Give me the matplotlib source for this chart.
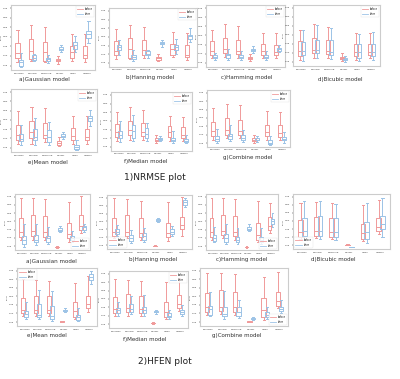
import matplotlib
matplotlib.use("Agg")
import matplotlib.pyplot as plt
from matplotlib.lines import Line2D

categories = ["gaussian", "hanning", "hamming", "bicubic", "mean", "median"]
series_labels = ["before", "after"]

# each entry: [whisker low, Q1, median, Q3, whisker high] per category
nrmse_a_before = [[0.11,0.175,0.25,0.41,0.60],[0.115,0.15,0.285,0.46,0.685],[0.10,0.125,0.265,0.425,0.655],[0.075,0.115,0.135,0.15,0.195],[0.125,0.175,0.26,0.36,0.55],[0.11,0.165,0.215,0.35,0.54]]
nrmse_a_after = [[0.025,0.05,0.10,0.14,0.25],[0.115,0.14,0.175,0.215,0.235],[0.085,0.12,0.145,0.175,0.215],[0.265,0.29,0.315,0.34,0.365],[0.26,0.315,0.375,0.415,0.515],[0.40,0.485,0.55,0.59,0.75]]
nrmse_b_before = [[0.12,0.18,0.25,0.43,0.63],[0.11,0.14,0.29,0.48,0.70],[0.14,0.18,0.28,0.44,0.68],[0.08,0.105,0.13,0.15,0.21],[0.15,0.19,0.29,0.37,0.58],[0.10,0.15,0.18,0.36,0.57]]
nrmse_b_after = [[0.19,0.27,0.32,0.36,0.44],[0.08,0.11,0.15,0.18,0.28],[0.14,0.18,0.21,0.25,0.28],[0.33,0.37,0.39,0.42,0.44],[0.21,0.28,0.32,0.36,0.47],[0.42,0.46,0.51,0.54,0.65]]
nrmse_c_before = [[0.12,0.18,0.25,0.41,0.59],[0.14,0.21,0.27,0.46,0.68],[0.13,0.19,0.25,0.42,0.65],[0.08,0.105,0.13,0.15,0.19],[0.13,0.17,0.25,0.36,0.54],[0.13,0.17,0.23,0.34,0.54]]
nrmse_c_after = [[0.09,0.12,0.14,0.17,0.21],[0.10,0.13,0.17,0.19,0.27],[0.09,0.12,0.15,0.17,0.25],[0.21,0.24,0.26,0.28,0.33],[0.09,0.12,0.14,0.17,0.25],[0.22,0.25,0.27,0.29,0.34]]
nrmse_d_before = [[0.08,0.15,0.23,0.39,0.59],[0.12,0.20,0.25,0.44,0.68],[0.11,0.18,0.23,0.41,0.64],[0.065,0.10,0.12,0.135,0.19],[0.08,0.15,0.22,0.35,0.54],[0.11,0.16,0.21,0.34,0.54]]
nrmse_d_after = [[0.065,0.16,0.23,0.38,0.59],[0.11,0.19,0.25,0.42,0.66],[0.09,0.17,0.22,0.41,0.62],[0.055,0.08,0.10,0.12,0.15],[0.065,0.12,0.21,0.34,0.51],[0.08,0.15,0.22,0.35,0.55]]
nrmse_e_before = [[0.11,0.18,0.26,0.42,0.64],[0.11,0.20,0.30,0.48,0.71],[0.14,0.20,0.26,0.45,0.69],[0.07,0.10,0.125,0.16,0.22],[0.11,0.18,0.245,0.375,0.57],[0.11,0.18,0.22,0.36,0.57]]
nrmse_e_after = [[0.10,0.16,0.19,0.27,0.42],[0.10,0.17,0.22,0.36,0.53],[0.10,0.14,0.22,0.33,0.47],[0.19,0.22,0.245,0.27,0.31],[0.01,0.035,0.06,0.09,0.18],[0.40,0.48,0.53,0.57,0.66]]
nrmse_f_before = [[0.15,0.22,0.30,0.45,0.66],[0.17,0.25,0.34,0.50,0.74],[0.17,0.24,0.31,0.47,0.69],[0.12,0.15,0.17,0.20,0.26],[0.16,0.22,0.30,0.41,0.59],[0.15,0.21,0.26,0.39,0.57]]
nrmse_f_after = [[0.13,0.20,0.25,0.33,0.50],[0.16,0.21,0.33,0.43,0.61],[0.15,0.21,0.28,0.38,0.47],[0.15,0.17,0.19,0.21,0.24],[0.12,0.15,0.17,0.21,0.32],[0.11,0.13,0.16,0.18,0.26]]
nrmse_g_before = [[0.11,0.17,0.26,0.43,0.67],[0.14,0.20,0.29,0.50,0.75],[0.14,0.20,0.27,0.47,0.73],[0.06,0.09,0.11,0.14,0.20],[0.11,0.17,0.24,0.37,0.62],[0.11,0.16,0.23,0.37,0.60]]
nrmse_g_after = [[0.05,0.09,0.13,0.17,0.31],[0.09,0.13,0.17,0.22,0.37],[0.07,0.10,0.14,0.20,0.29],[0.07,0.10,0.11,0.14,0.17],[0.01,0.03,0.06,0.10,0.18],[0.06,0.10,0.13,0.16,0.24]]

hfen_a_before = [[0.17,0.21,0.31,0.56,0.92],[0.17,0.23,0.33,0.62,0.92],[0.16,0.21,0.30,0.60,0.90],[0.025,0.03,0.035,0.04,0.05],[0.13,0.20,0.27,0.48,0.85],[0.29,0.35,0.42,0.61,0.97]]
hfen_a_after = [[0.04,0.09,0.16,0.23,0.46],[0.08,0.12,0.17,0.25,0.45],[0.09,0.12,0.19,0.23,0.39],[0.31,0.33,0.35,0.38,0.42],[0.13,0.16,0.19,0.23,0.32],[0.31,0.35,0.39,0.42,0.46]]
hfen_b_before = [[0.18,0.22,0.31,0.56,0.94],[0.18,0.22,0.31,0.62,0.92],[0.15,0.21,0.29,0.57,0.88],[0.03,0.035,0.04,0.045,0.05],[0.14,0.21,0.28,0.48,0.86],[0.22,0.35,0.44,0.59,0.96]]
hfen_b_after = [[0.22,0.26,0.31,0.35,0.44],[0.09,0.13,0.18,0.24,0.34],[0.12,0.15,0.22,0.28,0.38],[0.49,0.51,0.52,0.54,0.56],[0.22,0.26,0.31,0.35,0.41],[0.78,0.82,0.86,0.90,0.94]]
hfen_c_before = [[0.17,0.21,0.31,0.56,0.92],[0.20,0.25,0.33,0.62,0.92],[0.16,0.23,0.30,0.60,0.91],[0.025,0.03,0.035,0.04,0.045],[0.12,0.16,0.26,0.48,0.87],[0.29,0.35,0.42,0.59,0.84]]
hfen_c_after = [[0.12,0.14,0.20,0.25,0.40],[0.09,0.13,0.19,0.27,0.46],[0.09,0.12,0.16,0.21,0.38],[0.32,0.34,0.36,0.39,0.45],[0.09,0.13,0.17,0.21,0.38],[0.39,0.45,0.50,0.54,0.65]]
hfen_d_before = [[0.17,0.21,0.29,0.52,0.84],[0.19,0.23,0.31,0.58,0.85],[0.17,0.20,0.29,0.55,0.84],[0.045,0.05,0.055,0.06,0.07],[0.13,0.17,0.27,0.45,0.79],[0.26,0.32,0.39,0.56,0.88]]
hfen_d_after = [[0.14,0.23,0.31,0.55,0.87],[0.16,0.23,0.31,0.60,0.87],[0.14,0.20,0.29,0.56,0.81],[0.01,0.012,0.015,0.018,0.02],[0.09,0.17,0.29,0.49,0.84],[0.20,0.35,0.45,0.60,0.92]]
hfen_e_before = [[0.15,0.20,0.26,0.47,0.80],[0.15,0.20,0.27,0.51,0.79],[0.15,0.20,0.27,0.50,0.77],[0.05,0.055,0.06,0.065,0.07],[0.11,0.14,0.25,0.40,0.74],[0.23,0.29,0.36,0.51,0.86]]
hfen_e_after = [[0.10,0.13,0.19,0.25,0.40],[0.10,0.13,0.17,0.36,0.61],[0.07,0.10,0.15,0.33,0.60],[0.23,0.25,0.26,0.27,0.30],[0.06,0.09,0.13,0.18,0.29],[0.72,0.79,0.84,0.90,0.95]]
hfen_f_before = [[0.19,0.24,0.32,0.53,0.85],[0.20,0.26,0.33,0.59,0.84],[0.19,0.24,0.32,0.56,0.83],[0.06,0.065,0.07,0.075,0.08],[0.14,0.17,0.27,0.45,0.80],[0.28,0.34,0.41,0.57,0.87]]
hfen_f_after = [[0.20,0.24,0.30,0.34,0.45],[0.23,0.26,0.32,0.41,0.56],[0.20,0.24,0.30,0.36,0.57],[0.23,0.26,0.27,0.28,0.30],[0.14,0.17,0.20,0.24,0.30],[0.20,0.23,0.27,0.30,0.39]]
hfen_g_before = [[0.18,0.22,0.32,0.56,0.92],[0.19,0.25,0.32,0.61,0.91],[0.18,0.22,0.31,0.58,0.89],[0.045,0.05,0.055,0.06,0.065],[0.09,0.14,0.26,0.48,0.85],[0.29,0.33,0.42,0.58,0.93]]
hfen_g_after = [[0.15,0.18,0.28,0.33,0.58],[0.11,0.15,0.19,0.31,0.59],[0.12,0.15,0.22,0.32,0.44],[0.08,0.10,0.11,0.12,0.14],[0.11,0.14,0.18,0.22,0.31],[0.21,0.24,0.28,0.32,0.44]]

captions = ["a)Gaussian model", "b)Hanning model", "c)Hamming model", "d)Bicubic model",
            "e)Mean model", "f)Median model", "g)Combine model"]
group_titles = ["1)NRMSE plot", "2)HFEN plot"]

RED = "#f09a9a"
BLUE = "#9cc3e6"

W, H = 400, 379
fig = plt.figure(figsize=(4.0, 3.79), dpi=100)
fig.patch.set_facecolor("white")

# panel layout in pixels: (x0, y0, x1, y1, caption_x, caption_y, legend_loc)
panels = [
    (nrmse_a_before, nrmse_a_after, captions[0], (11, 5, 95, 70, 44, 80, "upper right")),
    (nrmse_b_before, nrmse_b_after, captions[1], (109, 8, 197, 67, 150, 78, "upper right")),
    (nrmse_c_before, nrmse_c_after, captions[2], (206, 5, 285, 67, 247, 78, "upper right")),
    (nrmse_d_before, nrmse_d_after, captions[3], (293, 5, 380, 66, 340, 79, "upper right")),
    (nrmse_e_before, nrmse_e_after, captions[4], (11, 89, 97, 152, 48, 163, "upper right")),
    (nrmse_f_before, nrmse_f_after, captions[5], (111, 92, 192, 151, 146, 162, "upper right")),
    (nrmse_g_before, nrmse_g_after, captions[6], (207, 90, 290, 147, 248, 158, "upper right")),
    (hfen_a_before, hfen_a_after, captions[0], (15, 194, 90, 250, 51, 261, "lower right")),
    (hfen_b_before, hfen_b_after, captions[1], (107, 195, 192, 249, 153, 259, "lower left")),
    (hfen_c_before, hfen_c_after, captions[2], (206, 194, 278, 250, 242, 260, "lower right")),
    (hfen_d_before, hfen_d_after, captions[3], (293, 194, 390, 249, 333, 260, "lower left")),
    (hfen_e_before, hfen_e_after, captions[4], (17, 268, 97, 326, 47, 336, "upper left")),
    (hfen_f_before, hfen_f_after, captions[5], (109, 271, 188, 328, 145, 339, "upper right")),
    (hfen_g_before, hfen_g_after, captions[6], (200, 268, 288, 326, 237, 336, "lower right")),
]

def stats_from(rows):
    out = []
    for lo, q1, med, q3, hi in rows:
        out.append(dict(whislo=lo, q1=q1, med=med, q3=q3, whishi=hi, fliers=[]))
    return out

for before, after, cap, (x0, y0, x1, y1, cx, cy, loc) in panels:
    ax = fig.add_axes([x0 / W, 1 - y1 / H, (x1 - x0) / W, (y1 - y0) / H])
    n = len(categories)
    for data, color, off in ((before, RED, -0.12), (after, BLUE, 0.12)):
        props = dict(color=color, linewidth=0.7)
        ax.bxp(stats_from(data), positions=[i + off for i in range(n)], widths=0.3,
               showfliers=False, boxprops=props, whiskerprops=props, capprops=props,
               medianprops=props, manage_ticks=False)
    ax.set_xlim(-0.6, n - 0.4)
    ax.set_ylim(-0.02, 1.0)
    ax.set_xticks(range(n))
    ax.set_xticklabels(categories, fontsize=1.7, color="#444444")
    ax.set_yticks([0.05, 0.2, 0.35, 0.5, 0.65, 0.8, 0.95])
    ax.tick_params(axis="y", labelsize=1.7, labelcolor="#444444", length=1, width=0.3, pad=0.8)
    ax.tick_params(axis="x", length=1, width=0.3, pad=0.8)
    ax.set_ylabel("error", fontsize=1.7, color="#444444", labelpad=0.8)
    for s in ax.spines.values():
        s.set_color("#cccccc")
        s.set_linewidth(0.8)
    handles = [Line2D([0], [0], color=RED, lw=0.6), Line2D([0], [0], color=BLUE, lw=0.6)]
    leg = ax.legend(handles, series_labels, loc=loc, fontsize=1.8, frameon=True,
                    handlelength=2.5, borderpad=0.4, labelspacing=0.4)
    leg.get_frame().set_linewidth(0.3)
    leg.get_frame().set_edgecolor("#dddddd")
    fig.text(cx / W, 1 - cy / H, cap, fontsize=4.1, ha="center", va="center", color="#333333")

fig.text(155 / W, 1 - 178 / H, group_titles[0], fontsize=6.5, ha="center", va="center", color="#222222")
fig.text(165 / W, 1 - 362 / H, group_titles[1], fontsize=6.5, ha="center", va="center", color="#222222")

fig.savefig("out.png", dpi=100, facecolor="white")
